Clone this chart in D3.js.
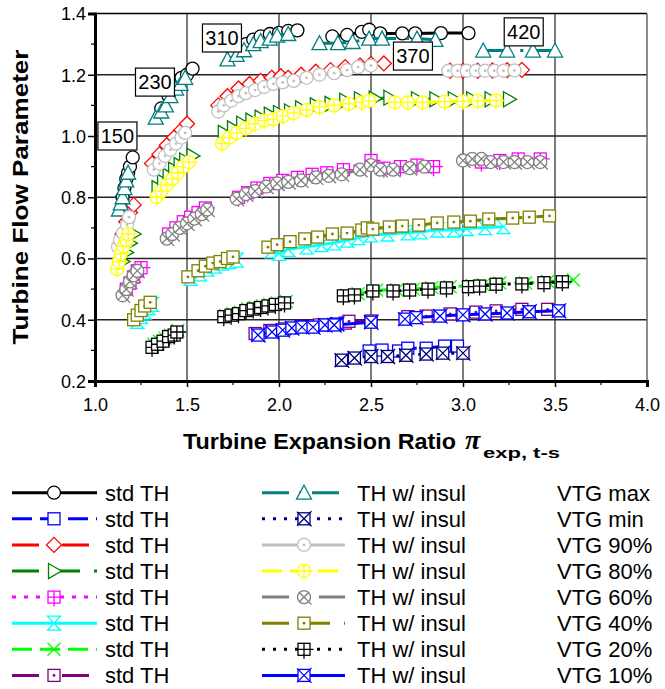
<!DOCTYPE html>
<html><head><meta charset="utf-8">
<script src="https://cdn.jsdelivr.net/npm/d3@7"></script>
<style>body{margin:0;background:#fff}svg{display:block}</style>
</head><body>
<svg id="c" width="665" height="689"></svg>
<script>
// ---------- DATA (clusters per speed line: 150, 230, 310, 370, 420) ----------
const xTicks = [1.0, 1.5, 2.0, 2.5, 3.0, 3.5, 4.0];
const yTicks = [0.2, 0.4, 0.6, 0.8, 1.0, 1.2, 1.4];
const speedLabels = ["150", "230", "310", "370", "420"];
const speedLabelX = [1.122, 1.326, 1.69, 2.728, 3.33];
const speedLabelY = [1.0, 1.176, 1.32, 1.261, 1.34];
const vtgLabels = ["VTG max", "VTG min", "VTG 90%", "VTG 80%", "VTG 60%", "VTG 40%", "VTG 20%", "VTG 10%"];

const stdMax = [
  [[1.15,0.80],[1.16,0.83],[1.17,0.86],[1.18,0.88],[1.19,0.90],[1.205,0.93]],
  [[1.36,1.09],[1.40,1.13],[1.44,1.16],[1.47,1.19],[1.50,1.20],[1.53,1.22]],
  [[1.78,1.29],[1.82,1.30],[1.86,1.315],[1.90,1.325],[1.95,1.333],[2.00,1.337],[2.05,1.343],[2.10,1.345]],
  [[2.29,1.325],[2.37,1.33],[2.45,1.34],[2.49,1.347],[2.55,1.335],[2.67,1.335],[2.74,1.335],[2.88,1.336],[3.03,1.336]]
];
const insMax = [
  [[1.13,0.76],[1.14,0.78],[1.15,0.80],[1.16,0.83],[1.17,0.855],[1.18,0.88]],
  [[1.33,1.06],[1.36,1.08],[1.385,1.10],[1.41,1.13],[1.44,1.155],[1.465,1.17],[1.49,1.19]],
  [[1.72,1.25],[1.77,1.265],[1.81,1.28],[1.86,1.30],[1.90,1.31],[1.95,1.318],[1.99,1.328],[2.05,1.333]],
  [[2.22,1.303],[2.32,1.303],[2.40,1.307],[2.49,1.318],[2.56,1.318],[2.75,1.318],[2.85,1.314]],
  [[3.11,1.279],[3.24,1.279],[3.38,1.279],[3.50,1.279]]
];
const stdMin = [
  [[2.49,0.298],[2.56,0.301],[2.65,0.298],[2.70,0.307],[2.80,0.307],[2.90,0.314],[2.97,0.314]]
];
const insMin = [
  [[2.34,0.268],[2.41,0.275],[2.50,0.28],[2.59,0.28],[2.69,0.284],[2.80,0.288],[2.89,0.291],[3.00,0.291]]
];
const std90 = [
  [[1.15,0.68],[1.17,0.72],[1.19,0.75],[1.21,0.775]],
  [[1.31,0.91],[1.35,0.94],[1.39,0.97],[1.43,0.995],[1.47,1.02],[1.50,1.04]],
  [[1.67,1.10],[1.72,1.13],[1.78,1.155],[1.84,1.17],[1.90,1.18],[1.96,1.19],[2.01,1.195]],
  [[2.05,1.19],[2.12,1.20],[2.20,1.21],[2.28,1.215],[2.36,1.225],[2.44,1.23],[2.50,1.235],[2.57,1.237]],
  [[2.93,1.213],[3.00,1.213],[3.08,1.213],[3.16,1.214],[3.24,1.215],[3.32,1.216]]
];
const ins90 = [
  [[1.125,0.638],[1.136,0.66],[1.152,0.683],[1.174,0.71],[1.185,0.735]],
  [[1.32,0.89],[1.35,0.91],[1.38,0.935],[1.41,0.955],[1.44,0.975],[1.47,0.995],[1.49,1.01]],
  [[1.67,1.08],[1.70,1.10],[1.74,1.115],[1.78,1.13],[1.82,1.14],[1.87,1.15],[1.92,1.16],[1.97,1.17]],
  [[2.02,1.175],[2.08,1.18],[2.15,1.19],[2.22,1.20],[2.30,1.205],[2.37,1.215],[2.43,1.225],[2.50,1.23]],
  [[2.92,1.213],[2.97,1.213],[3.02,1.213],[3.07,1.213],[3.12,1.213],[3.17,1.213],[3.22,1.213],[3.28,1.214]]
];
const std80 = [
  [[1.15,0.59],[1.17,0.62],[1.19,0.65],[1.21,0.68]],
  [[1.34,0.83],[1.37,0.85],[1.40,0.87],[1.43,0.89],[1.46,0.905],[1.49,0.92],[1.53,0.935]],
  [[1.70,1.01],[1.75,1.025],[1.80,1.04],[1.85,1.05],[1.90,1.06],[1.95,1.07],[2.00,1.075]],
  [[2.06,1.08],[2.12,1.09],[2.20,1.10],[2.28,1.105],[2.36,1.115],[2.44,1.12],[2.52,1.122],[2.60,1.125]],
  [[2.75,1.12],[2.85,1.12],[2.95,1.12],[3.05,1.12],[3.15,1.12],[3.25,1.12]]
];
const ins80 = [
  [[1.12,0.565],[1.13,0.59],[1.14,0.615],[1.155,0.64],[1.17,0.66],[1.18,0.68]],
  [[1.335,0.80],[1.36,0.82],[1.39,0.84],[1.42,0.86],[1.45,0.88],[1.48,0.90],[1.51,0.915]],
  [[1.69,0.975],[1.73,0.995],[1.77,1.01],[1.82,1.025],[1.87,1.04],[1.92,1.05],[1.97,1.055]],
  [[2.02,1.065],[2.08,1.075],[2.15,1.085],[2.22,1.095],[2.30,1.10],[2.38,1.105],[2.45,1.11],[2.49,1.115]],
  [[2.63,1.11],[2.70,1.11],[2.78,1.11],[2.90,1.112],[3.00,1.113],[3.08,1.115],[3.18,1.116]]
];
const std60 = [
  [[1.17,0.50],[1.19,0.52],[1.21,0.54],[1.23,0.56],[1.25,0.57]],
  [[1.40,0.68],[1.44,0.70],[1.48,0.72],[1.52,0.735],[1.56,0.75],[1.60,0.765]],
  [[1.78,0.80],[1.83,0.815],[1.88,0.83],[1.95,0.845],[2.02,0.855],[2.10,0.865],[2.18,0.875],[2.26,0.88],[2.35,0.89],[2.50,0.92],[2.57,0.895],[2.66,0.90],[2.75,0.905],[2.84,0.90]],
  [[3.10,0.915],[3.20,0.92],[3.30,0.925],[3.42,0.925]]
];
const ins60 = [
  [[1.15,0.48],[1.17,0.50],[1.19,0.525],[1.21,0.545],[1.23,0.56]],
  [[1.39,0.665],[1.42,0.68],[1.46,0.70],[1.50,0.715],[1.54,0.73],[1.58,0.745],[1.61,0.76]],
  [[1.77,0.795],[1.82,0.81],[1.87,0.82],[1.93,0.835],[1.99,0.845],[2.05,0.85],[2.12,0.855],[2.20,0.865],[2.27,0.87],[2.34,0.875],[2.44,0.89],[2.50,0.905],[2.55,0.89],[2.62,0.89],[2.71,0.895],[2.79,0.90]],
  [[3.00,0.92],[3.05,0.925],[3.10,0.925],[3.15,0.915],[3.22,0.915],[3.28,0.915],[3.35,0.915],[3.42,0.915]]
];
const std40 = [
  [[1.23,0.395],[1.25,0.41],[1.27,0.425],[1.29,0.44],[1.31,0.45]],
  [[1.52,0.535],[1.57,0.55],[1.61,0.565],[1.65,0.575],[1.69,0.585],[1.73,0.59],[1.77,0.595]],
  [[1.96,0.625],[2.00,0.617],[2.05,0.63],[2.15,0.638],[2.23,0.645],[2.30,0.651],[2.37,0.66],[2.43,0.668],[2.50,0.677],[2.59,0.68],[2.70,0.684],[2.77,0.687],[2.86,0.693],[2.95,0.693],[3.02,0.698],[3.12,0.701],[3.22,0.704]]
];
const ins40 = [
  [[1.21,0.40],[1.23,0.415],[1.25,0.43],[1.27,0.445],[1.30,0.457]],
  [[1.505,0.54],[1.56,0.56],[1.60,0.575],[1.64,0.585],[1.68,0.59],[1.72,0.60],[1.75,0.605]],
  [[1.94,0.637],[1.99,0.645],[2.06,0.655],[2.14,0.664],[2.21,0.670],[2.29,0.680],[2.37,0.683],[2.45,0.693],[2.48,0.70]],
  [[2.51,0.696],[2.60,0.703],[2.67,0.706],[2.76,0.709],[2.86,0.716],[2.95,0.719],[3.04,0.722],[3.14,0.729],[3.27,0.732],[3.36,0.735],[3.47,0.739]]
];
const std20 = [
  [[1.32,0.32],[1.35,0.33],[1.38,0.34],[1.41,0.35],[1.45,0.365]],
  [[1.71,0.415],[1.75,0.42],[1.79,0.425],[1.83,0.435],[1.87,0.44],[1.91,0.445],[1.95,0.45],[1.99,0.455],[2.04,0.46]],
  [[2.37,0.48],[2.43,0.485],[2.53,0.497],[2.64,0.497],[2.73,0.50],[2.83,0.505],[2.93,0.508],[3.05,0.512],[3.11,0.514],[3.20,0.52],[3.34,0.52],[3.46,0.525],[3.60,0.53]]
];
const ins20 = [
  [[1.31,0.31],[1.34,0.32],[1.37,0.33],[1.40,0.345],[1.43,0.35],[1.445,0.36]],
  [[1.70,0.41],[1.74,0.415],[1.78,0.42],[1.82,0.43],[1.86,0.435],[1.90,0.44],[1.94,0.445],[1.98,0.45],[2.03,0.455]],
  [[2.35,0.478],[2.41,0.481],[2.51,0.494],[2.62,0.494],[2.71,0.497],[2.81,0.50],[2.91,0.504],[3.03,0.508],[3.09,0.51],[3.18,0.516],[3.32,0.517],[3.44,0.521],[3.54,0.524]]
];
const std10 = [
  [[1.87,0.355],[1.95,0.365],[2.03,0.37],[2.12,0.378],[2.22,0.383],[2.36,0.389]],
  [[2.38,0.395],[2.50,0.396]],
  [[2.70,0.41],[2.80,0.412],[2.93,0.419],[3.07,0.425],[3.18,0.429],[3.32,0.434],[3.46,0.434]]
];
const ins10 = [
  [[1.886,0.35],[1.962,0.36],[2.02,0.366],[2.07,0.373],[2.125,0.376],[2.185,0.376],[2.25,0.383],[2.315,0.386]],
  [[2.30,0.383],[2.50,0.392]],
  [[2.685,0.402],[2.745,0.407],[2.875,0.412],[3.00,0.416],[3.12,0.419],[3.24,0.422],[3.36,0.426],[3.52,0.429]]
];

// ---------- STYLES ----------
const stdSeries = [
  {d: stdMax, color:"#000000", dash:null, marker:"circle"},
  {d: stdMin, color:"#0000ff", dash:"20,8", marker:"square"},
  {d: std90,  color:"#ff0000", dash:"27,10,3,10", marker:"diamond"},
  {d: std80,  color:"#008000", dash:"27,14", marker:"triRight"},
  {d: std60,  color:"#ff00ff", dash:"4,8", marker:"squarePlus"},
  {d: std40,  color:"#00ffff", dash:null, marker:"hourglass"},
  {d: std20,  color:"#00ff00", dash:"20,8", marker:"x"},
  {d: std10,  color:"#800080", dash:"27,10,3,10", marker:"squareDot"}
];
const insSeries = [
  {d: insMax, color:"#008080", dash:"27,10,3,10", marker:"triUp"},
  {d: insMin, color:"#000080", dash:"3,8", marker:"squareX"},
  {d: ins90,  color:"#c0c0c0", dash:null, marker:"circleDot"},
  {d: ins80,  color:"#ffff00", dash:"20,8", marker:"circlePlus"},
  {d: ins60,  color:"#808080", dash:"27,8,3,8,3,8", marker:"circleX"},
  {d: ins40,  color:"#808000", dash:"27,14", marker:"squareDot"},
  {d: ins20,  color:"#000000", dash:"3,8", marker:"squarePlus"},
  {d: ins10,  color:"#0000ff", dash:null, marker:"squareX"}
];

const svg = d3.select("#c");
const x = d3.scaleLinear().domain([1, 4]).range([95, 647]);
const y = d3.scaleLinear().domain([0.2, 1.4]).range([381, 13.5]);
const FONT = "'Liberation Sans', Arial, sans-serif";

// grid
const grid = svg.append("g");
grid.selectAll("line.vx").data(xTicks.slice(1, -1)).enter().append("line")
  .attr("x1", d => x(d)).attr("x2", d => x(d)).attr("y1", y(1.4)).attr("y2", y(0.2))
  .attr("stroke", "#505050").attr("stroke-width", 1.5);
grid.selectAll("line.hy").data(yTicks.slice(1, -1)).enter().append("line")
  .attr("y1", d => y(d)).attr("y2", d => y(d)).attr("x1", x(1)).attr("x2", x(4))
  .attr("stroke", "#222").attr("stroke-width", 1.5);
// frame top/right
svg.append("line").attr("x1", x(1)).attr("x2", x(4)).attr("y1", y(1.4)).attr("y2", y(1.4)).attr("stroke", "#000").attr("stroke-width", 1.5);
svg.append("line").attr("x1", x(4)).attr("x2", x(4)).attr("y1", y(1.4)).attr("y2", y(0.2)).attr("stroke", "#666").attr("stroke-width", 1.5);

// axes
const xAxis = d3.axisBottom(x).tickValues(xTicks).tickFormat(d3.format(".1f")).tickSize(6).tickPadding(11);
const gx = svg.append("g").attr("transform", `translate(0,${y(0.2)})`).call(xAxis);
const yAxis = d3.axisLeft(y).tickValues(yTicks).tickFormat(d3.format(".1f")).tickSize(7).tickPadding(2);
const gy = svg.append("g").attr("transform", `translate(${x(1)},0)`).call(yAxis);
[gx, gy].forEach(g => {
  g.select(".domain").attr("stroke", "#000").attr("stroke-width", 3);
  g.selectAll(".tick line").attr("stroke", "#000").attr("stroke-width", 1.5);
  g.selectAll(".tick text").attr("font-family", FONT).attr("font-size", 18).attr("fill", "#000");
});
gy.selectAll(".tick text").attr("dy", "0.35em");
// minor ticks
const minorX = d3.range(1.25, 4, 0.5);
svg.append("g").selectAll("line").data(minorX).enter().append("line")
  .attr("x1", d => x(d)).attr("x2", d => x(d)).attr("y1", y(0.2)).attr("y2", y(0.2) + 4)
  .attr("stroke", "#000").attr("stroke-width", 1.2);
const minorY = d3.range(0.3, 1.4, 0.2);
svg.append("g").selectAll("line").data(minorY).enter().append("line")
  .attr("y1", d => y(d)).attr("y2", d => y(d)).attr("x1", x(1) - 4).attr("x2", x(1))
  .attr("stroke", "#000").attr("stroke-width", 1.2);

// axis titles
svg.append("text").attr("transform", "translate(28,197) rotate(-90)")
  .attr("text-anchor", "middle").attr("font-family", FONT).attr("font-weight", "bold")
  .attr("font-size", 22).attr("textLength", 295).attr("lengthAdjust", "spacingAndGlyphs")
  .text("Turbine Flow Parameter");
svg.append("text").attr("x", 183).attr("y", 449).attr("font-family", FONT).attr("font-weight", "bold")
  .attr("font-size", 22).attr("textLength", 273).attr("lengthAdjust", "spacingAndGlyphs")
  .text("Turbine Expansion Ratio");
svg.append("text").attr("x", 465).attr("y", 449).attr("font-family", "'Liberation Serif', 'Times New Roman', serif")
  .attr("font-style", "italic").attr("font-weight", "bold").attr("font-size", 28).text("π");
svg.append("text").attr("x", 483).attr("y", 458).attr("font-family", FONT).attr("font-weight", "bold")
  .attr("font-size", 15).attr("textLength", 77).attr("lengthAdjust", "spacingAndGlyphs").text("exp, t-s");

// marker drawing
function marker(g, type, color, cx, cy) {
  const m = g.append("g").attr("transform", `translate(${cx},${cy})`)
    .attr("fill", "#fff").attr("stroke", color).attr("stroke-width", 1.3);
  const sq = () => m.append("rect").attr("x", -6).attr("y", -6).attr("width", 12).attr("height", 12);
  const ci = () => m.append("circle").attr("r", 6.5);
  const dot = () => m.append("circle").attr("r", 1.4).attr("fill", color).attr("stroke", "none");
  switch (type) {
    case "circle": ci(); break;
    case "square": sq(); break;
    case "diamond": m.append("path").attr("d", "M0,-7.5L7.5,0L0,7.5L-7.5,0Z"); break;
    case "triRight": m.append("path").attr("d", "M-5.5,-7.5L7.5,0L-5.5,7.5Z"); break;
    case "triUp": m.append("path").attr("d", "M0,-7.5L7.5,6.5L-7.5,6.5Z"); break;
    case "hourglass": m.append("path").attr("d", "M-6.5,-7H6.5L-6.5,7H6.5Z"); break;
    case "x": m.append("path").attr("fill", "none").attr("d", "M-6.5,-6.5L6.5,6.5M-6.5,6.5L6.5,-6.5"); break;
    case "squarePlus": sq(); m.append("path").attr("fill", "none").attr("d", "M0,-6V9.5M-6,0H9.5"); break;
    case "squareDot": sq(); dot(); break;
    case "squareX": sq(); m.append("path").attr("fill", "none").attr("d", "M-7,-7L7.5,7.5M-7,7L7.5,-7.5"); break;
    case "circleDot": ci(); dot(); break;
    case "circlePlus": ci(); m.append("path").attr("fill", "none").attr("d", "M0,-6.5V8.5M-6.5,0H8.5"); break;
    case "circleX": ci(); m.append("path").attr("fill", "none").attr("d", "M-4.6,-4.6L7.5,7.5M-4.6,4.6L4.6,-4.6"); break;
  }
}

const line = d3.line().x(d => x(d[0])).y(d => y(d[1]));
const plot = svg.append("g");
function drawSeries(s) {
  const g = plot.append("g");
  s.d.forEach(cl => {
    g.append("path").datum(cl).attr("d", line).attr("fill", "none")
      .attr("stroke", s.color).attr("stroke-width", 3)
      .attr("stroke-dasharray", s.dash);
  });
  s.d.forEach(cl => cl.forEach(p => marker(g, s.marker, s.color, x(p[0]), y(p[1]))));
}
stdSeries.forEach(drawSeries);
insSeries.forEach(drawSeries);

// speed labels
speedLabels.forEach((t, i) => {
  const cx = x(speedLabelX[i]), cy = y(speedLabelY[i]);
  svg.append("rect").attr("x", cx - 19.5).attr("y", cy - 14).attr("width", 39).attr("height", 28)
    .attr("fill", "#fff").attr("stroke", "#000").attr("stroke-width", 1.2);
  svg.append("text").attr("x", cx).attr("y", cy + 7).attr("text-anchor", "middle")
    .attr("font-family", FONT).attr("font-size", 20).text(t);
});

// legend
const leg = svg.append("g");
const rowY = i => 492.7 + i * 26.1;
function legendEntry(s, i, x0, x1, mx, tx, label) {
  const yy = rowY(i);
  leg.append("line").attr("x1", x0).attr("x2", x1).attr("y1", yy).attr("y2", yy)
    .attr("stroke", s.color).attr("stroke-width", 3).attr("stroke-dasharray", s.dash);
  marker(leg, s.marker, s.color, mx, yy);
  leg.append("text").attr("x", tx).attr("y", yy + 8).attr("font-family", FONT).attr("font-size", 22).text(label);
}
stdSeries.forEach((s, i) => legendEntry(s, i, 12, 97, 54, 105, "std TH"));
insSeries.forEach((s, i) => legendEntry(s, i, 262, 345, 304, 357, "TH w/ insul"));
vtgLabels.forEach((t, i) => leg.append("text").attr("x", 557).attr("y", rowY(i) + 8)
  .attr("font-family", FONT).attr("font-size", 22).text(t));
</script>
</body></html>
